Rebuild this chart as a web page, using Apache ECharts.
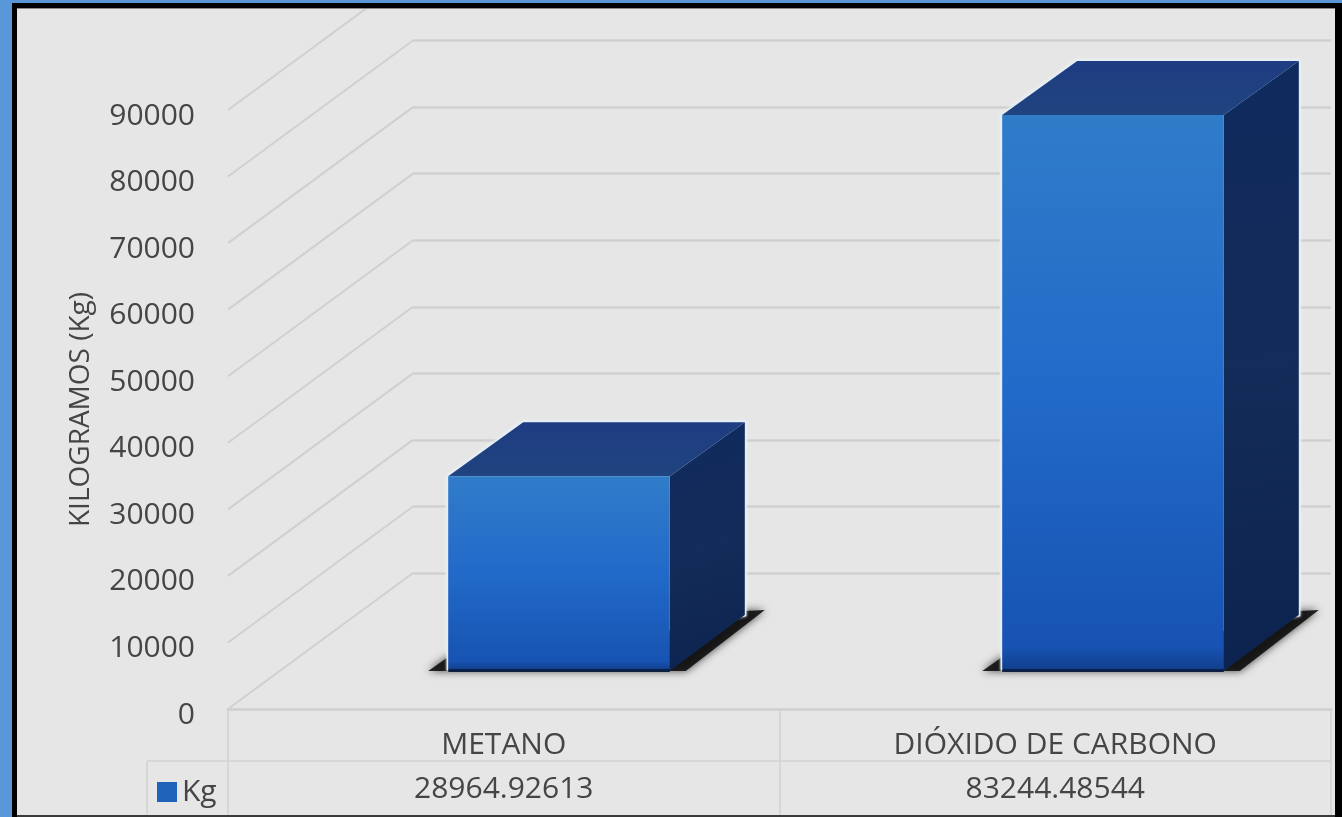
<!DOCTYPE html>
<html>
<head>
<meta charset="utf-8">
<style>html,body{margin:0;padding:0;background:#e6e6e6}#chart{width:1342px;height:817px}</style>
<script src="https://cdn.jsdelivr.net/npm/echarts@6/dist/echarts.min.js"></script>
</head>
<body>
<div id="chart"></div>
<script>
// Emisiones por gas, en kilogramos
const categories = ['METANO', 'DIÓXIDO DE CARBONO'];
const kgValues = [28964.92613, 83244.48544];
const yTicks = [0, 10000, 20000, 30000, 40000, 50000, 60000, 70000, 80000, 90000];

const FONT = '"Open Sans", sans-serif';
const TEXT = '#454545';
const GRID_LINE = '#d0d0d0';
const TABLE_LINE = '#d2d2d2';
const DEPTH_X = 185, DEPTH_Y = 136;   // wall offset behind the front plane
const BAR_DX = 75, BAR_DY = 54;       // column depth

const frontFill = new echarts.graphic.LinearGradient(0, 0, 0, 1, [
  { offset: 0, color: '#307cc9' },
  { offset: 0.5, color: '#226ac9' },
  { offset: 0.96, color: '#1753b2' },
  { offset: 1, color: '#123f8e' }
]);
const sideFill = new echarts.graphic.LinearGradient(0, 0, 1, 1, [
  { offset: 0, color: '#0f2a5e' },
  { offset: 0.5, color: '#142c59' },
  { offset: 1, color: '#0c234f' }
]);
const topFill = new echarts.graphic.LinearGradient(0, 0, 0, 1, [
  { offset: 0, color: '#1e3c82' },
  { offset: 1, color: '#20447f' }
]);

function renderColumn(params, api) {
  const [cx, top] = api.coord([api.value(0), api.value(1)]);
  const [, base] = api.coord([api.value(0), 0]);
  const w = api.size([1, 0])[0] * 0.4;
  const x0 = cx - w / 2, x1 = cx + w / 2;
  return {
    type: 'group',
    children: [
      { // contact shadow on the floor
        type: 'polygon',
        shape: { points: [
          [x0 - 20, base + 2], [x0, base - 12], [x1 + BAR_DX, base - BAR_DY - 4],
          [x1 + BAR_DX + 20, base - BAR_DY - 5], [x1 + 16, base + 2]
        ] },
        style: { fill: 'rgba(15,15,15,0.9)', shadowBlur: 8, shadowColor: 'rgba(0,0,0,0.8)' }
      },
      { // pale edge round the column
        type: 'polygon',
        shape: { points: [
          [x0, base], [x0, top], [x0 + BAR_DX, top - BAR_DY],
          [x1 + BAR_DX, top - BAR_DY], [x1 + BAR_DX, base - BAR_DY]
        ] },
        style: { fill: '#e4edf6', stroke: '#e4edf6', lineWidth: 3, shadowBlur: 3, shadowColor: '#eef5fb' }
      },
      {
        type: 'polygon',
        shape: { points: [[x1, top], [x1 + BAR_DX, top - BAR_DY], [x1 + BAR_DX, base - BAR_DY], [x1, base + 2]] },
        style: { fill: sideFill }
      },
      {
        type: 'polygon',
        shape: { points: [[x0, top], [x0 + BAR_DX, top - BAR_DY], [x1 + BAR_DX, top - BAR_DY], [x1, top]] },
        style: { fill: topFill }
      },
      {
        type: 'rect',
        shape: { x: x0, y: top, width: w, height: base - top },
        style: { fill: frontFill }
      },
      {
        type: 'rect',
        shape: { x: x0, y: base, width: w, height: 3 },
        style: { fill: '#0c2045' }
      }
    ]
  };
}

// Floor-to-wall guide running back from each tick on the front plane
function renderGuide(params, api) {
  const x = params.coordSys.x;
  const y = api.coord([0, api.value(0)])[1];
  return {
    type: 'polyline',
    shape: { points: [[x, y], [x + DEPTH_X, y - DEPTH_Y]] },
    style: { fill: null, stroke: GRID_LINE, lineWidth: 2 }
  };
}

function tableLine(x1, y1, x2, y2) {
  return { type: 'line', z: 5, shape: { x1, y1, x2, y2 }, style: { stroke: TABLE_LINE, lineWidth: 1.5 } };
}
function frameRect(x, y, width, height, fill) {
  return { type: 'rect', z: 100, shape: { x, y, width, height }, style: { fill } };
}

const option = {
  animation: false,
  backgroundColor: '#e6e6e6',
  textStyle: { fontFamily: FONT },
  grid: [
    { outerBoundsMode: 'none', left: 228, width: 1103, top: 110, height: 599 },                                  // front plane
    { outerBoundsMode: 'none', left: 228 + DEPTH_X, width: 1103 - DEPTH_X, top: 110 - DEPTH_Y, height: 599 },    // back wall
    { outerBoundsMode: 'none', left: 282, width: 1108, top: 70, height: 599 }                                    // column plane
  ],
  xAxis: [
    {
      gridIndex: 0,
      type: 'category',
      data: categories,
      axisLine: { lineStyle: { color: TABLE_LINE, width: 3 } },
      axisTick: { show: true, length: 108, lineStyle: { color: TABLE_LINE, width: 1.5 } },
      axisLabel: {
        margin: 14,
        interval: 0,
        formatter: (name, i) => `{n|${name}}\n{v|${kgValues[i].toFixed(5)}}`,
        rich: {
          n: { fontFamily: FONT, fontSize: 30, color: TEXT, height: 44, lineHeight: 44 },
          v: { fontFamily: FONT, fontSize: 30, color: TEXT, height: 44, lineHeight: 44 }
        }
      }
    },
    { gridIndex: 1, type: 'category', data: categories, show: false },
    { gridIndex: 2, type: 'category', data: categories, show: false }
  ],
  yAxis: [
    {
      gridIndex: 0,
      type: 'value',
      min: 0,
      max: 90000,
      interval: 10000,
      name: 'KILOGRAMOS (Kg)',
      nameLocation: 'middle',
      nameGap: 133,
      nameTextStyle: { fontFamily: FONT, fontSize: 28, color: TEXT },
      axisLine: { show: false },
      axisTick: { show: false },
      splitLine: { show: false },
      axisLabel: {
        margin: 33,
        fontFamily: FONT,
        fontSize: 30,
        color: TEXT,
        verticalAlign: 'top',
        lineHeight: 12,
        formatter: v => String(v)
      }
    },
    {
      gridIndex: 1,
      type: 'value',
      min: 0,
      max: 90000,
      interval: 10000,
      axisLine: { show: false },
      axisTick: { show: false },
      axisLabel: { show: false },
      splitLine: { lineStyle: { color: GRID_LINE, width: 2.5 } }
    },
    { gridIndex: 2, type: 'value', min: 0, max: 90000, interval: 10000, show: false }
  ],
  legend: {
    data: ['Kg'],
    left: 152,
    top: 772,
    itemWidth: 20,
    itemHeight: 20,
    itemGap: 8,
    icon: 'rect',
    selectedMode: false,
    textStyle: { fontFamily: FONT, fontSize: 30, color: TEXT }
  },
  series: [
    {
      type: 'custom',
      name: 'guides',
      xAxisIndex: 0,
      yAxisIndex: 0,
      z: 1,
      data: yTicks.map(v => [v]),
      encode: { y: 0 },
      renderItem: renderGuide,
      silent: true
    },
    {
      type: 'custom',
      name: 'Kg',
      xAxisIndex: 2,
      yAxisIndex: 2,
      z: 3,
      data: kgValues.map((v, i) => [i, v]),
      encode: { x: 0, y: 1 },
      itemStyle: { color: '#1f63bb' },
      renderItem: renderColumn
    }
  ],
  graphic: [
    tableLine(147, 761, 1331, 761),
    tableLine(147, 761, 147, 817),
    frameRect(0, 0, 12, 817, '#5897d8'),
    frameRect(0, 0, 1342, 3, '#5897d8'),
    frameRect(12, 3, 5, 814, '#000000'),
    frameRect(12, 3, 1330, 5, '#000000'),
    frameRect(17, 8, 1318, 1, '#8a8a8a'),
    frameRect(1335, 3, 7, 814, '#000000'),
    frameRect(17, 815, 1318, 2, '#3a3a3a')
  ]
};

echarts.init(document.getElementById('chart')).setOption(option);
</script>
</body>
</html>
